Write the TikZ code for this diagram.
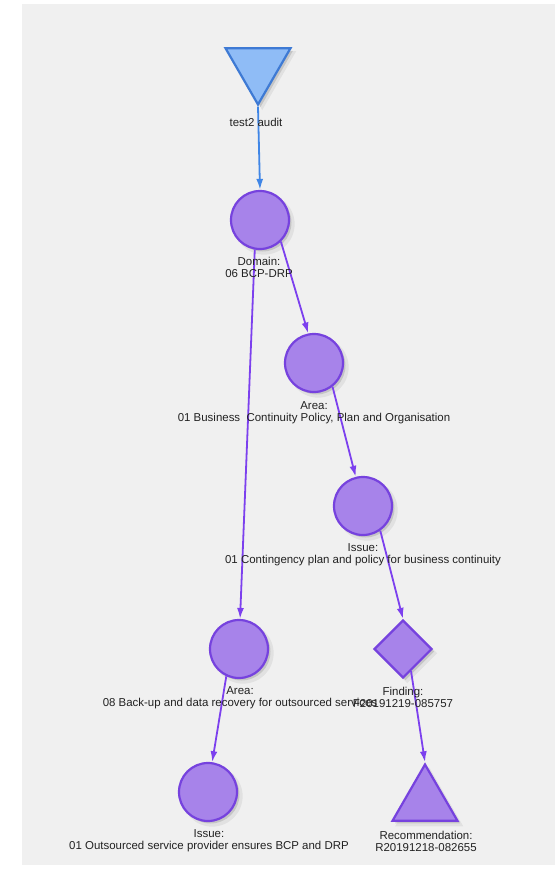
\documentclass[tikz,border=0pt]{standalone}
\usepackage{fontspec}
\setmainfont{Liberation Sans}
\usetikzlibrary{shapes.geometric,shadows,arrows.meta}
\definecolor{panel}{RGB}{240,240,240}
\definecolor{vfill}{RGB}{167,131,234}
\definecolor{vline}{RGB}{118,66,222}
\definecolor{vedge}{RGB}{124,64,238}
\definecolor{bfill}{RGB}{143,188,246}
\definecolor{bline}{RGB}{62,122,212}
\definecolor{bedge}{RGB}{64,134,230}
\definecolor{lbltext}{RGB}{34,34,34}

\begin{document}
\begin{tikzpicture}[x=1bp,y=-1bp,
  soft/.style={
    general shadow={shadow xshift=4bp,shadow yshift=-4bp,shadow scale=1.05,fill=black,opacity=.06},
    general shadow={shadow xshift=2.5bp,shadow yshift=-2.5bp,fill=black,opacity=.12}},
  vcirc/.style={circle,minimum size=58bp,inner sep=0pt,draw=vline,line width=2.2bp,fill=vfill,soft},
  vdiam/.style={diamond,aspect=1,minimum width=58bp,minimum height=58bp,inner sep=0pt,
    draw=vline,line width=2.2bp,fill=vfill,soft},
  vtri/.style={regular polygon,regular polygon sides=3,minimum size=75bp,inner sep=0pt,
    draw=vline,line width=2.2bp,fill=vfill,soft},
  btri/.style={regular polygon,regular polygon sides=3,shape border rotate=180,
    minimum size=75bp,inner sep=0pt,draw=bline,line width=2.2bp,fill=bfill,soft},
  lbl/.style={font=\fontsize{11.5}{12}\selectfont,align=center,inner sep=0pt,text=lbltext},
  vlink/.style={draw=vedge,line width=1.8bp,-{Latex[length=11bp,width=7bp]}},
  blink/.style={draw=bedge,line width=1.8bp,-{Latex[length=11bp,width=7bp]}}
]
\useasboundingbox (0,0) rectangle (558,869);
\fill[panel] (22,4) rectangle (555,865);

% nodes of the audit tree
\node[btri]  (audit)  at (258,67)  {};
\node[vcirc] (dom)    at (260,220) {};
\node[vcirc] (area1)  at (314,363) {};
\node[vcirc] (issue1) at (363,506) {};
\node[vcirc] (area2)  at (239,649) {};
\node[vdiam] (find)   at (403,649) {};
\node[vcirc] (issue2) at (208,792) {};
\node[vtri]  (rec)    at (425,802) {};

% connectors
\draw[blink] (audit.corner 1) -- (dom.north);
\draw[vlink] (dom.-46) -- (area1.101);
\draw[vlink] (dom.-100) -- (area2.88);
\draw[vlink] (area1.-52) -- (issue1.104);
\draw[vlink] (issue1.-55) -- (find.north);
\draw[vlink] (area2.-115) -- (issue2.82);
\draw[vlink] (find.-70) -- (rec.corner 1);

% captions
\node[lbl] (laudit)  at (256,122)   {test2 audit};
\node[lbl] (ldom)    at (259,267)   {Domain:\\06 BCP-DRP};
\node[lbl] (larea1)  at (314,413)   {Area:\\01 Business\ \ Continuity Policy, Plan and Organisation};
\node[lbl] (lissue1) at (363,555)   {Issue:\\01 Contingency plan and policy for business continuity};
\node[lbl] (larea2)  at (240,697.5) {Area:\\08 Back-up and data recovery for outsourced services};
\node[lbl] (lfind)   at (403,697.5) {Finding:\\F20191219-085757};
\node[lbl] (lissue2) at (209,841)   {Issue:\\01 Outsourced service provider ensures BCP and DRP};
\node[lbl] (lrec)    at (426,841)   {Recommendation:\\R20191218-082655};
\end{tikzpicture}
\end{document}
